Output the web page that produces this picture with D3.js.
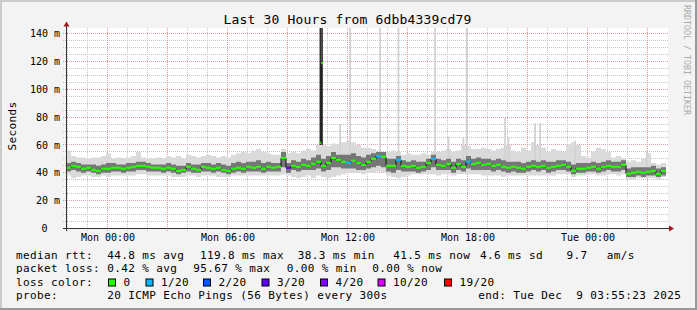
<!DOCTYPE html>
<html lang="en">
<head>
<meta charset="UTF-8">
<title>Last 30 Hours from 6dbb4339cd79</title>
<script src="https://cdn.jsdelivr.net/npm/d3@7"></script>
<style>
html, body { margin: 0; padding: 0; background: #f3f3f3; }
svg { display: block; font-family: 'DejaVu Sans Mono', monospace; }
</style>
</head>
<body>
<div id="chart"></div>
<script>
// ---- data (15 minute steps, 120 of them) ----
const title = "Last 30 Hours from 6dbb4339cd79";
const endTime = new Date("2025-12-09T03:55:23Z");
const stepMinutes = 15;

// median rtt, ms
const median = [
  43.6,45.0,44.3,42.9,43.6,42.1,41.4,42.9,42.9,43.6, 43.6,42.9,43.6,44.3,45.0,45.0,44.3,43.6,43.6,42.9,
  43.6,42.9,41.4,42.1,44.3,42.9,42.1,44.3,43.6,42.9, 43.6,42.1,41.4,42.9,43.6,42.9,44.3,43.6,44.3,42.9,
  44.3,43.6,44.3,50.7,43.6,45.0,44.3,45.7,45.0,46.4, 47.9,45.0,47.1,50.7,49.3,47.9,47.1,48.6,47.1,45.7,
  47.9,50.0,52.1,51.4,45.0,45.0,49.3,45.0,44.3,45.0, 43.6,44.3,47.1,50.0,45.7,45.0,46.4,43.6,46.4,44.3,
  48.0,46.4,47.1,45.7,46.4,45.0,45.7,44.3,43.6,44.3, 43.6,42.9,44.3,45.0,44.3,45.0,43.6,44.3,45.0,45.7,
  44.3,41.4,42.9,42.9,43.6,44.3,42.9,44.3,45.0,44.3, 44.3,45.7,39.3,40.0,40.7,40.0,40.7,41.4,39.3,41.4
];
// lost pings out of 20
const lost = [
  0,0,0,0,0,0,0,0,0,0, 0,0,0,0,0,0,0,0,0,0,
  0,0,0,0,0,0,0,0,0,0, 0,0,0,0,0,0,0,0,0,0,
  0,0,0,0,3,0,0,0,0,0, 0,0,0,0,0,0,1,0,0,0,
  0,0,1,0,0,0,1,0,0,0, 0,0,0,1,0,0,0,0,0,0,
  1,0,0,0,0,0,0,0,0,0, 0,0,0,0,0,0,0,0,0,0,
  0,0,0,0,0,0,0,0,0,0, 0,0,0,0,0,0,0,0,0,0
];
// light smoke, ms
const smokeHi = [
  56,52,51,51,50,51,51,52,54,50, 51,50,51,52,55,51,50,50,51,50,
  52,51,52,50,53,52,51,52,53,52, 51,52,51,53,54,55,54,56,57,55,
  54,53,53,57,54,55,54,56,57,56, 60,60,59,61,60,62,63,62,60,58,
  58,57,56,55,55,56,55,53,54,53, 53,54,53,55,55,56,57,55,56,60,
  59,57,57,58,57,56,57,58,60,56, 55,58,56,62,60,58,55,57,56,55,
  60,62,60,52,51,55,58,57,55,51, 52,50,48,49,48,50,54,47,46,47
];
const smokeLo = [
  38,36,37,38,38,37,37,38,37,38, 38,38,38,38,39,39,38,38,38,38,
  38,37,37,37,38,38,37,38,38,38, 37,37,37,38,38,38,38,38,38,38,
  38,38,38,39,38,37,36,37,38,36, 38,37,36,37,38,39,40,40,40,39,
  40,40,41,40,38,37,36,37,38,39, 39,39,39,39,38,39,39,38,39,39,
  39,39,39,38,38,38,38,37,38,38, 38,38,38,38,38,38,38,38,39,39,
  39,37,38,38,39,39,38,38,39,39, 38,39,35,35,36,36,36,36,35,37
];
// dark smoke, ms
const coreHi = [
  47,48,47,46,46,46,45,46,47,47, 46,46,47,47,48,48,47,46,46,46,
  47,46,45,45,47,46,46,47,47,46, 47,46,45,47,48,47,48,48,49,47,
  48,47,47,55,47,49,48,50,49,51, 53,50,52,55,53,53,53,54,52,51,
  53,54,55,55,50,50,52,49,48,49, 48,48,50,53,50,49,50,48,50,49,
  52,50,51,50,50,49,50,49,48,48, 48,47,48,49,48,49,48,48,49,49,
  48,46,47,47,47,48,47,48,49,48, 48,49,43,44,44,44,44,45,43,44
];
const coreLo = [
  41,42,41,40,41,40,39,40,40,41, 41,40,41,41,42,42,41,41,41,40,
  41,40,39,40,41,40,40,41,41,40, 41,40,39,40,41,40,41,41,41,40,
  41,41,41,44,40,42,41,42,42,42, 43,41,42,44,44,43,43,43,42,42,
  43,44,45,44,41,40,42,41,41,41, 40,41,42,44,42,42,42,40,42,41,
  43,42,42,42,42,41,42,41,40,41, 40,40,41,42,41,42,40,41,42,42,
  41,39,40,40,41,41,40,41,42,41, 41,42,37,37,38,37,38,38,37,38
];
// single slow pings (thin light lines): time, top in ms
const peaks = [
  ["2025-12-08T11:35:00Z", 75], ["2025-12-08T12:05:00Z", 150], ["2025-12-08T13:35:00Z", 150],
  ["2025-12-08T14:30:00Z", 150], ["2025-12-08T16:20:00Z", 150], ["2025-12-08T17:00:00Z", 66],
  ["2025-12-08T17:45:00Z", 65], ["2025-12-08T17:55:00Z", 150], ["2025-12-08T19:50:00Z", 79.5],
  ["2025-12-08T20:00:00Z", 65], ["2025-12-08T21:20:00Z", 75.7], ["2025-12-08T21:35:00Z", 75.7],
  ["2025-12-08T23:20:00Z", 63], ["2025-12-09T02:55:00Z", 55.7]
];
// the 5 minute steps around the big spike
const spikeSteps = [
  { time: "2025-12-08T10:36:00Z", median: 61.6, lo: 60, hi: 150 },
  { time: "2025-12-08T10:41:00Z", median: 118.8, lo: 60, hi: 150 }
];

const yTicks = [0, 20, 40, 60, 80, 100, 120, 140];
const yTickLabels = ["0", "20 m", "40 m", "60 m", "80 m", "100 m", "120 m", "140 m"];
const xTickTimes = ["2025-12-08T00:00:00Z", "2025-12-08T06:00:00Z", "2025-12-08T12:00:00Z", "2025-12-08T18:00:00Z", "2025-12-09T00:00:00Z"];
const xTickLabels = ["Mon 00:00", "Mon 06:00", "Mon 12:00", "Mon 18:00", "Tue 00:00"];

const rttStats = ["44.8 ms avg", "119.8 ms max", "38.3 ms min", "41.5 ms now", "4.6 ms sd", "9.7", "am/s"];
const lossStats = ["0.42 % avg", "95.67 % max", "0.00 % min", "0.00 % now"];
const lossNames = ["0", "1/20", "2/20", "3/20", "4/20", "10/20", "19/20"];
const lossColors = ["#26ff00", "#00b8ff", "#0059ff", "#5e00ff", "#7e00ff", "#dd00ff", "#ff0000"];
const probeText = "20 ICMP Echo Pings (56 Bytes) every 300s";
const endText = "end: Tue Dec  9 03:55:23 2025";

// ---- drawing ----
var W = 697, H = 310;
var plotL = 66, plotR = 666, plotT = 28.5, plotB = 228.5;
var startTime = new Date(+endTime - 30 * 3600e3);

var svg = d3.select("#chart").append("svg").attr("width", W).attr("height", H);

svg.append("rect").attr("width", W).attr("height", H).attr("fill", "#f3f3f3");
svg.append("path").attr("d", `M0,1H${W}M1,0V${H}`).attr("stroke", "#cbcbcb").attr("stroke-width", 2);
svg.append("path").attr("d", `M0,${H-1}H${W}M${W-1},0V${H}`).attr("stroke", "#999").attr("stroke-width", 2);

svg.append("rect").attr("x", plotL).attr("y", 28).attr("width", 602).attr("height", 200).attr("fill", "#fff");

var x = d3.scaleUtc().domain([startTime, endTime]).range([plotL, plotR]);
var y = d3.scaleLinear().domain([0, 143.6]).range([plotB, plotT]);

function lossColor(n) {
  if (n >= 19) return lossColors[6];
  if (n >= 10) return lossColors[5];
  if (n >= 4) return lossColors[4];
  return lossColors[n];
}

// grid
var grid = svg.append("g");
d3.range(5, 145, 5).forEach(v => {
  var yy = Math.round(y(v) - 0.5) + 0.5;
  grid.append("line").attr("x1", 63).attr("x2", 668).attr("y1", yy).attr("y2", yy)
    .attr("stroke", v % 20 ? "#c4c4c4" : "#e39a9a").attr("stroke-dasharray", "1,1");
});
d3.utcHour.range(d3.utcHour.ceil(startTime), endTime).forEach(t => {
  var xx = Math.round(x(t) - 0.5) + 0.5;
  grid.append("line").attr("x1", xx).attr("x2", xx).attr("y1", 28).attr("y2", 231)
    .attr("stroke", t.getUTCHours() % 3 ? "#c4c4c4" : "#e39a9a").attr("stroke-dasharray", "1,1");
});

// data
svg.append("clipPath").attr("id", "plot").append("rect")
  .attr("x", plotL).attr("y", 28).attr("width", 602).attr("height", 200);
var g = svg.append("g").attr("clip-path", "url(#plot)");

var steps = median.map((m, i) => ({ t: new Date(+startTime + i * stepMinutes * 60e3), i: i }));
var stepsExt = steps.concat([{ t: endTime, i: median.length - 1 }]);

function band(lo, hi) {
  return d3.area().curve(d3.curveStepAfter)
    .x(d => x(d.t)).y0(d => y(lo[d.i])).y1(d => y(hi[d.i]));
}
g.append("path").datum(stepsExt).attr("d", band(smokeLo, smokeHi)).attr("fill", "#dadada");

peaks.forEach(p => {
  var t = new Date(p[0]);
  g.append("rect").attr("x", x(t)).attr("width", 1.8)
    .attr("y", y(p[1])).attr("height", y(45) - y(p[1])).attr("fill", "#d2d2d2");
});

g.append("path").datum(stepsExt).attr("d", band(coreLo, coreHi)).attr("fill", "#767676");

var spikeW = x(new Date(+startTime + 5 * 60e3)) - x(startTime);
spikeSteps.forEach(s => {
  var t = new Date(s.time);
  g.append("rect").attr("x", x(t)).attr("width", spikeW)
    .attr("y", y(s.hi)).attr("height", y(s.lo) - y(s.hi)).attr("fill", "#2e2e2e");
});

g.append("path").datum(stepsExt)
  .attr("d", d3.line().curve(d3.curveStepAfter).x(d => x(d.t)).y(d => y(median[d.i])))
  .attr("fill", "none").attr("stroke", "#111").attr("stroke-width", 1);

steps.forEach(d => {
  var t2 = new Date(+d.t + stepMinutes * 60e3);
  g.append("line").attr("x1", x(d.t)).attr("x2", x(t2))
    .attr("y1", y(median[d.i])).attr("y2", y(median[d.i]))
    .attr("stroke", lossColor(lost[d.i])).attr("stroke-width", 2.2);
});

spikeSteps.forEach((s, k) => {
  var t = new Date(s.time);
  if (k > 0) {
    g.append("line").attr("x1", x(t)).attr("x2", x(t))
      .attr("y1", y(spikeSteps[k - 1].median)).attr("y2", y(s.median)).attr("stroke", "#111");
  }
  g.append("line").attr("x1", x(t)).attr("x2", x(t) + spikeW)
    .attr("y1", y(s.median)).attr("y2", y(s.median))
    .attr("stroke", lossColors[0]).attr("stroke-width", 2.2);
});

// axes
var yAxis = svg.append("g").attr("transform", `translate(${plotL + 0.5},0)`)
  .call(d3.axisLeft(y).tickValues(yTicks).tickFormat((d, i) => yTickLabels[i]).tickSize(0).tickPadding(6.5));
yAxis.select(".domain").remove();
yAxis.selectAll("text").attr("font-family", "'DejaVu Sans Mono', monospace").attr("font-size", 10)
  .attr("fill", "#000").attr("x", (d) => d === 0 ? -19 : -6.5);

var xAxis = svg.append("g").attr("transform", `translate(0,${plotB})`)
  .call(d3.axisBottom(x).tickValues(xTickTimes.map(s => new Date(s)))
    .tickFormat((d, i) => xTickLabels[i]).tickSize(0).tickPadding(5.4));
xAxis.select(".domain").remove();
xAxis.selectAll("text").attr("font-family", "'DejaVu Sans Mono', monospace").attr("font-size", 10).attr("fill", "#000");

svg.append("line").attr("x1", plotL + 0.5).attr("x2", plotL + 0.5).attr("y1", 231).attr("y2", 26)
  .attr("stroke", "#333");
svg.append("line").attr("x1", 63).attr("x2", 670).attr("y1", plotB).attr("y2", plotB)
  .attr("stroke", "#333");
svg.append("path").attr("d", `M${plotL - 2.5},26.5L${plotL + 0.5},21.5L${plotL + 3.5},26.5Z`).attr("fill", "#a01818");
svg.append("path").attr("d", `M669,${plotB - 3}L674,${plotB}L669,${plotB + 3}Z`).attr("fill", "#a01818");

// texts
function txt(xx, yy, s, size, ls) {
  return svg.append("text").attr("x", xx).attr("y", yy).text(s)
    .attr("font-size", size).attr("letter-spacing", ls).style("white-space", "pre").attr("fill", "#000");
}
txt(347.5, 23.5, title, 13, 0.17).attr("text-anchor", "middle");
txt(0, 0, "Seconds", 11, 0.38).attr("text-anchor", "middle")
  .attr("transform", "translate(15.5,126) rotate(-90)");
txt(0, 0, "RRDTOOL / TOBI OETIKER", 8.3, 0).attr("fill", "#aaa")
  .attr("transform", "translate(683.5,5) rotate(90)");

var rows = [258.5, 272, 285.5, 299];
txt(16, rows[0], "median rtt:", 11, 0.38);
[107.3, 200, 297.7, 393.3, 480, 566.5, 606.7].forEach((xx, i) => txt(xx, rows[0], rttStats[i], 11, 0.38));
txt(16, rows[1], "packet loss:", 11, 0.38);
[107.3, 193.3, 286.7, 372.3].forEach((xx, i) => txt(xx, rows[1], lossStats[i], 11, 0.38));
txt(16, rows[2], "loss color:", 11, 0.38);
[108.5, 146, 203.5, 262, 320.5, 378, 444.5].forEach((xx, i) => {
  svg.append("rect").attr("x", xx).attr("y", 279).attr("width", 7).attr("height", 7)
    .attr("fill", lossColors[i]).attr("stroke", "#000");
  txt(xx + 15, rows[2], lossNames[i], 11, 0.38);
});
txt(16, rows[3], "probe:", 11, 0.38);
txt(107.3, rows[3], probeText, 11, 0.38);
txt(478.3, rows[3], endText, 11, 0.38);
</script>
</body>
</html>
